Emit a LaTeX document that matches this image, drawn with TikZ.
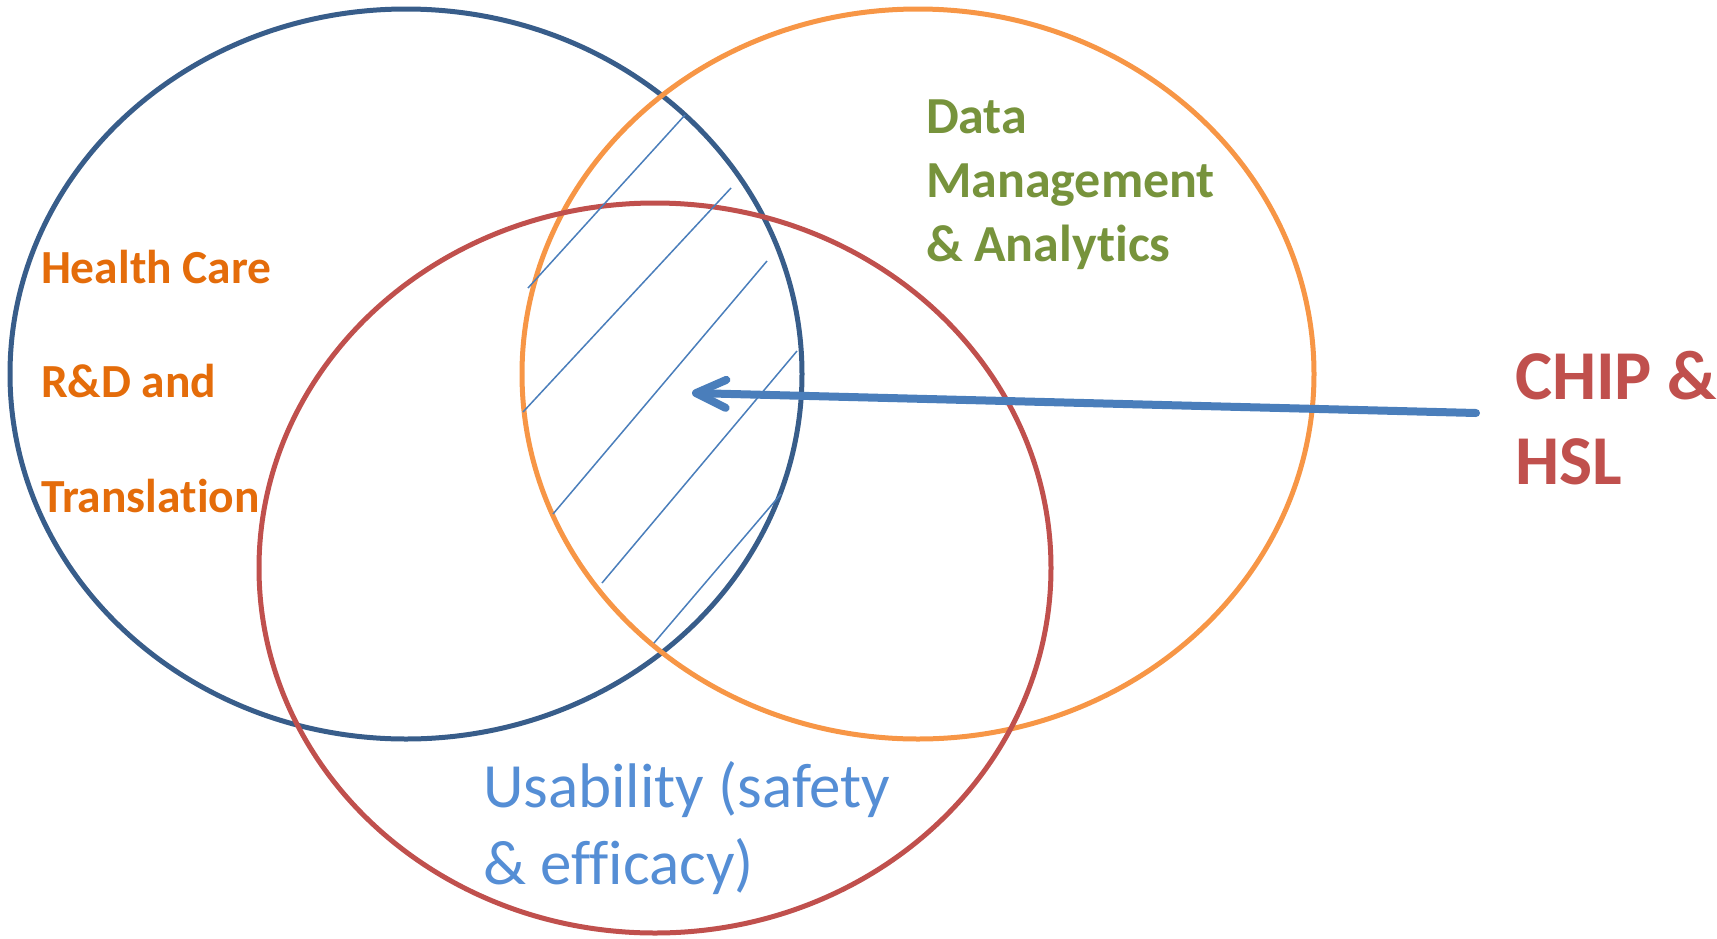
\documentclass[tikz,border=0pt]{standalone}
\usepackage{fontspec}
\setmainfont{Carlito}[Ligatures=NoCommon]
\usetikzlibrary{arrows.meta}
\definecolor{cblue}{HTML}{385D8A}
\definecolor{corange}{HTML}{F79646}
\definecolor{cred}{HTML}{C0504D}
\definecolor{chatch}{HTML}{4A7EBB}
\definecolor{carrow}{HTML}{4A7EBB}
\definecolor{torange}{HTML}{E46C0A}
\definecolor{tgreen}{HTML}{77933C}
\definecolor{tblue}{HTML}{558ED5}
\tikzset{
  venn/.style={line width=5pt},
  hatchline/.style={chatch, line width=1.5pt},
  lbl/.style={anchor=base west, inner sep=0pt, outer sep=0pt},
  hc/.style={lbl, text=torange, font=\fontsize{47.5}{57}\selectfont\bfseries},
  dm/.style={lbl, text=tgreen, font=\fontsize{52}{63}\selectfont\bfseries},
  ch/.style={lbl, text=cred, font=\fontsize{70}{85}\selectfont\bfseries},
  us/.style={lbl, text=tblue, font=\fontsize{63}{76}\selectfont},
  bigarrow/.style={carrow, line width=8pt, line cap=round,
    -{Straight Barb[length=30pt,width=28pt,round]}}
}
\begin{document}
\begin{tikzpicture}[x=1pt,y=-1pt]
\useasboundingbox (0,0) rectangle (1717,938);
% ellipses
\draw[venn, cblue]   (406,374) ellipse [x radius=396, y radius=365];
\draw[venn, corange] (918,374) ellipse [x radius=396, y radius=365];
\draw[venn, cred]    (655,568) ellipse [x radius=396, y radius=365];
% hatch lines
\draw[hatchline] (528,288) -- (685,115);
\draw[hatchline] (523,412) -- (731,188);
\draw[hatchline] (553,514) -- (767,261);
\draw[hatchline] (602,583) -- (797,351);
\draw[hatchline] (654,643) -- (781,494);
% labels
\node[hc] (hc1) at (41,283) {Health Care};
\node[hc] (hc2) at (41,397) {R\&D and};
\node[hc] (hc3) at (41,512) {Translation};
\node[dm] (dm1) at (926,133) {Data};
\node[dm] (dm2) at (926,197) {Management};
\node[dm] (dm3) at (926,261) {\& Analytics};
\node[ch] (ch1) at (1515,399) {CHIP \&};
\node[ch] (ch2) at (1515,484) {HSL};
\node[us] (us1) at (483,807) {Usability (safety};
\node[us] (us2) at (483,884) {\& efficacy)};
% arrow
\coordinate (astart) at (1476,413);
\coordinate (aend) at (692,393);
\draw[bigarrow] (astart) -- (aend);
\end{tikzpicture}
\end{document}
